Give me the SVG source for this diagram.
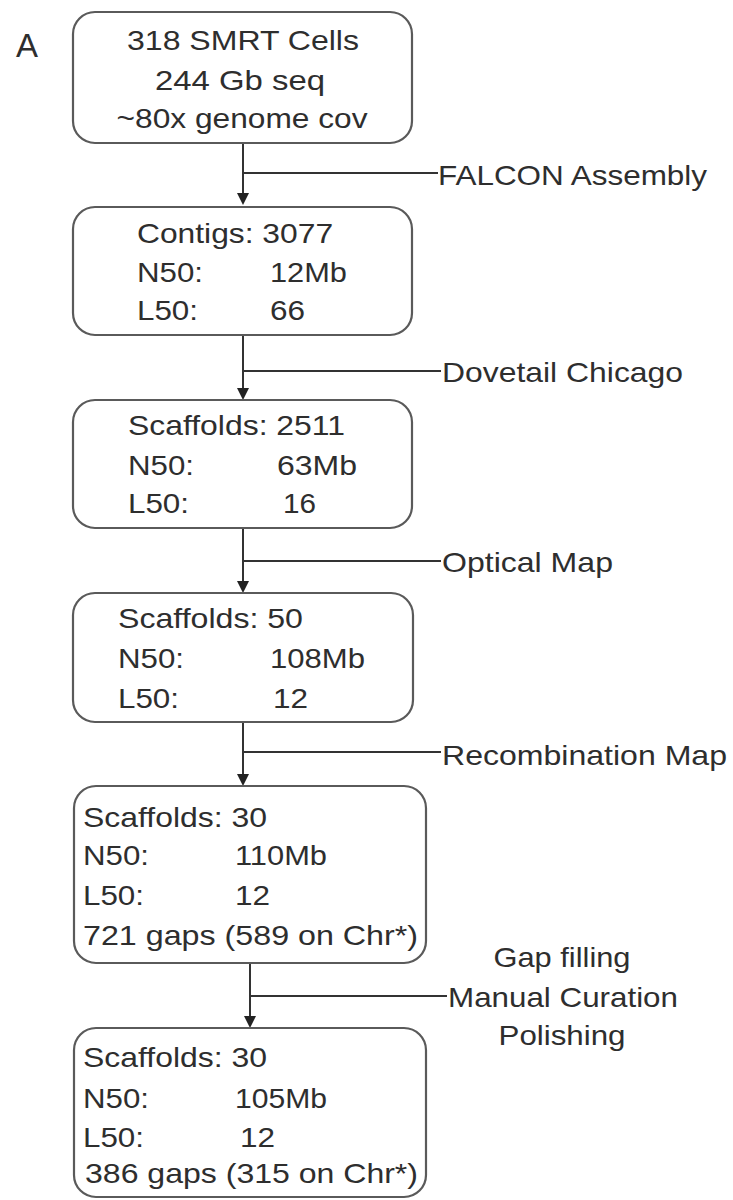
<svg xmlns="http://www.w3.org/2000/svg" width="733" height="1200" viewBox="0 0 733 1200">
<style>
.box{fill:#fff;stroke:#5a5a5a;stroke-width:2.2}
.t{font-family:"Liberation Sans",Arial,sans-serif;font-size:28px;fill:#2e2e2e}
.m{text-anchor:middle}
.c{fill:none;stroke:#333;stroke-width:2}
.ah{fill:#222}
</style>
<rect width="733" height="1200" fill="#fff"/>
<text class="t" x="16" y="57" style="font-size:34px" textLength="22" lengthAdjust="spacingAndGlyphs">A</text>

<g id="connectors">
<path class="c" d="M243,143 V195"/>
<path class="c" d="M243,173 H438"/>
<path class="c" d="M243,335 V390"/>
<path class="c" d="M243,371 H441"/>
<path class="c" d="M243,528 V583"/>
<path class="c" d="M243,561 H441"/>
<path class="c" d="M243,722 V776"/>
<path class="c" d="M243,752 H441"/>
<path class="c" d="M250,963 V1018"/>
<path class="c" d="M250,996 H447"/>
<path class="ah" d="M237,193 L249,193 L243,205 Z"/>
<path class="ah" d="M237,388 L249,388 L243,400 Z"/>
<path class="ah" d="M237,581 L249,581 L243,593 Z"/>
<path class="ah" d="M237,774 L249,774 L243,786 Z"/>
<path class="ah" d="M244,1016 L256,1016 L250,1028 Z"/>
</g>

<g id="n1">
<rect class="box" x="73" y="12" width="339" height="131" rx="22"/>
<text class="t m" transform="translate(243,50) scale(1.13,1)" textLength="205.3" lengthAdjust="spacingAndGlyphs">318 SMRT Cells</text>
<text class="t m" transform="translate(240,90) scale(1.13,1)" textLength="150.4" lengthAdjust="spacingAndGlyphs">244 Gb seq</text>
<text class="t m" transform="translate(242,128) scale(1.13,1)" textLength="222.1" lengthAdjust="spacingAndGlyphs">~80x genome cov</text>
</g>

<g id="l1"><text class="t" transform="translate(438,185) scale(1.13,1)" textLength="238.1" lengthAdjust="spacingAndGlyphs">FALCON Assembly</text></g>

<g id="n2">
<rect class="box" x="73" y="207" width="339" height="128" rx="22"/>
<text class="t" transform="translate(137,243) scale(1.13,1)" textLength="173.5" lengthAdjust="spacingAndGlyphs">Contigs: 3077</text>
<text class="t" transform="translate(137,282) scale(1.13,1)" textLength="58.4" lengthAdjust="spacingAndGlyphs">N50:</text>
<text class="t" transform="translate(270,282) scale(1.13,1)" textLength="68.1" lengthAdjust="spacingAndGlyphs">12Mb</text>
<text class="t" transform="translate(137,320) scale(1.13,1)" textLength="54" lengthAdjust="spacingAndGlyphs">L50:</text>
<text class="t" transform="translate(270,320) scale(1.13,1)" textLength="31" lengthAdjust="spacingAndGlyphs">66</text>
</g>

<g id="l2"><text class="t" transform="translate(442,382) scale(1.13,1)" textLength="213.3" lengthAdjust="spacingAndGlyphs">Dovetail Chicago</text></g>

<g id="n3">
<rect class="box" x="73" y="400" width="339" height="128" rx="22"/>
<text class="t" transform="translate(128,435) scale(1.13,1)" textLength="192" lengthAdjust="spacingAndGlyphs">Scaffolds: 2511</text>
<text class="t" transform="translate(128,475) scale(1.13,1)" textLength="58.4" lengthAdjust="spacingAndGlyphs">N50:</text>
<text class="t" transform="translate(277,475) scale(1.13,1)" textLength="70.8" lengthAdjust="spacingAndGlyphs">63Mb</text>
<text class="t" transform="translate(128,513) scale(1.13,1)" textLength="54" lengthAdjust="spacingAndGlyphs">L50:</text>
<text class="t" transform="translate(283,513) scale(1.13,1)" textLength="29.2" lengthAdjust="spacingAndGlyphs">16</text>
</g>

<g id="l3"><text class="t" transform="translate(442,572) scale(1.13,1)" textLength="151.3" lengthAdjust="spacingAndGlyphs">Optical Map</text></g>

<g id="n4">
<rect class="box" x="73" y="593" width="340" height="129" rx="22"/>
<text class="t" transform="translate(118,628) scale(1.13,1)" textLength="163.7" lengthAdjust="spacingAndGlyphs">Scaffolds: 50</text>
<text class="t" transform="translate(118,668) scale(1.13,1)" textLength="58.4" lengthAdjust="spacingAndGlyphs">N50:</text>
<text class="t" transform="translate(270,668) scale(1.13,1)" textLength="84.1" lengthAdjust="spacingAndGlyphs">108Mb</text>
<text class="t" transform="translate(118,708) scale(1.13,1)" textLength="54" lengthAdjust="spacingAndGlyphs">L50:</text>
<text class="t" transform="translate(273,708) scale(1.13,1)" textLength="31" lengthAdjust="spacingAndGlyphs">12</text>
</g>

<g id="l4"><text class="t" transform="translate(442,765) scale(1.13,1)" textLength="252.2" lengthAdjust="spacingAndGlyphs">Recombination Map</text></g>

<g id="n5">
<rect class="box" x="74" y="786" width="352" height="177" rx="22"/>
<text class="t" transform="translate(83,827) scale(1.13,1)" textLength="162.8" lengthAdjust="spacingAndGlyphs">Scaffolds: 30</text>
<text class="t" transform="translate(83,865) scale(1.13,1)" textLength="58.4" lengthAdjust="spacingAndGlyphs">N50:</text>
<text class="t" transform="translate(235,865) scale(1.13,1)" textLength="81.4" lengthAdjust="spacingAndGlyphs">110Mb</text>
<text class="t" transform="translate(83,905) scale(1.13,1)" textLength="54" lengthAdjust="spacingAndGlyphs">L50:</text>
<text class="t" transform="translate(235,905) scale(1.13,1)" textLength="31" lengthAdjust="spacingAndGlyphs">12</text>
<text class="t" transform="translate(83,945) scale(1.13,1)" textLength="296.5" lengthAdjust="spacingAndGlyphs">721 gaps (589 on Chr*)</text>
</g>

<g id="l5">
<text class="t m" transform="translate(562,967) scale(1.13,1)" textLength="121.2" lengthAdjust="spacingAndGlyphs">Gap filling</text>
<text class="t m" transform="translate(563,1007) scale(1.13,1)" textLength="203.5" lengthAdjust="spacingAndGlyphs">Manual Curation</text>
<text class="t m" transform="translate(562,1045) scale(1.13,1)" textLength="112.4" lengthAdjust="spacingAndGlyphs">Polishing</text>
</g>

<g id="n6">
<rect class="box" x="74" y="1028" width="352" height="169" rx="22"/>
<text class="t" transform="translate(83,1067) scale(1.13,1)" textLength="162.8" lengthAdjust="spacingAndGlyphs">Scaffolds: 30</text>
<text class="t" transform="translate(83,1108) scale(1.13,1)" textLength="58.4" lengthAdjust="spacingAndGlyphs">N50:</text>
<text class="t" transform="translate(235,1108) scale(1.13,1)" textLength="81.4" lengthAdjust="spacingAndGlyphs">105Mb</text>
<text class="t" transform="translate(83,1147) scale(1.13,1)" textLength="54" lengthAdjust="spacingAndGlyphs">L50:</text>
<text class="t" transform="translate(240,1147) scale(1.13,1)" textLength="31" lengthAdjust="spacingAndGlyphs">12</text>
<text class="t" transform="translate(85,1183) scale(1.13,1)" textLength="294.7" lengthAdjust="spacingAndGlyphs">386 gaps (315 on Chr*)</text>
</g>
</svg>
